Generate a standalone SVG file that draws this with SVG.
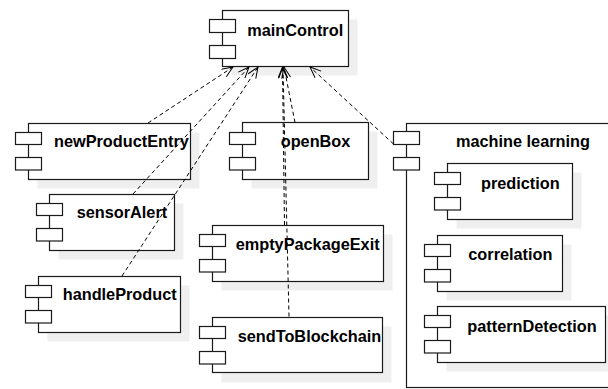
<svg xmlns="http://www.w3.org/2000/svg" width="608" height="389" viewBox="0 0 608 389">
<defs>
<style>
.sh{fill:#efefef;stroke:none}
.bx{fill:#fff;stroke:#1a1a1a;stroke-width:1.2}
.pt{fill:#fff;stroke:#1a1a1a;stroke-width:1.2}
.lb{font-family:"Liberation Sans",Arial,sans-serif;font-weight:bold;font-size:16.3px;fill:#000}
.dep{fill:none;stroke:#000;stroke-width:1;stroke-dasharray:4,3;marker-end:url(#open)}
</style>
<marker id="open" markerUnits="userSpaceOnUse" markerWidth="13" markerHeight="11" refX="12" refY="5" orient="auto">
<path d="M1,0.5 L12,5 L1,9.5" fill="none" stroke="#000" stroke-width="1" stroke-dasharray="none"/>
</marker>
</defs>
<rect width="608" height="389" fill="#fff"/>

<g id="mainControl">
<rect class="sh" x="231.5" y="19.5" width="126" height="56"/>
<rect class="bx" x="222.5" y="10.5" width="126" height="56"/>
<rect class="pt" x="209.5" y="19.5" width="26" height="13"/>
<rect class="pt" x="209.5" y="45.5" width="26" height="13"/>
<text class="lb" x="247.3" y="35.7">mainControl</text>
</g>

<g id="newProductEntry">
<rect class="sh" x="37.5" y="132.5" width="162" height="56"/>
<rect class="bx" x="28.5" y="123.5" width="162" height="56"/>
<rect class="pt" x="15.5" y="132.5" width="26" height="12"/>
<rect class="pt" x="15.5" y="157.5" width="26" height="12.5"/>
<text class="lb" x="54" y="147.3">newProductEntry</text>
</g>

<g id="sensorAlert">
<rect class="sh" x="58.5" y="203.5" width="125" height="56"/>
<rect class="bx" x="49.5" y="194.5" width="125" height="56"/>
<rect class="pt" x="36.5" y="203.5" width="26" height="12"/>
<rect class="pt" x="36.5" y="228.5" width="26" height="12.5"/>
<text class="lb" x="76.7" y="218.3">sensorAlert</text>
</g>

<g id="handleProduct">
<rect class="sh" x="47.5" y="285.5" width="142" height="56"/>
<rect class="bx" x="38.5" y="276.5" width="142" height="56"/>
<rect class="pt" x="25.5" y="285.5" width="26" height="12"/>
<rect class="pt" x="25.5" y="310.5" width="26" height="12.5"/>
<text class="lb" x="62.7" y="299.5">handleProduct</text>
</g>

<g id="openBox">
<rect class="sh" x="251.5" y="131.5" width="126" height="57"/>
<rect class="bx" x="242.5" y="122.5" width="126" height="57"/>
<rect class="pt" x="229.5" y="132.5" width="26" height="12"/>
<rect class="pt" x="229.5" y="157.5" width="26" height="12.5"/>
<text class="lb" x="280.7" y="147.3">openBox</text>
</g>

<g id="emptyPackageExit">
<rect class="sh" x="221.5" y="234.5" width="171" height="56"/>
<rect class="bx" x="212.5" y="225.5" width="171" height="56"/>
<rect class="pt" x="199.5" y="234.5" width="26" height="12"/>
<rect class="pt" x="199.5" y="259.5" width="26" height="12.5"/>
<text class="lb" x="235.7" y="250">emptyPackageExit</text>
</g>

<g id="sendToBlockchain">
<rect class="sh" x="221.5" y="326.5" width="170" height="56"/>
<rect class="bx" x="212.5" y="317.5" width="170" height="55"/>
<rect class="pt" x="199.5" y="326.5" width="26" height="12"/>
<rect class="pt" x="199.5" y="351.5" width="26" height="12.5"/>
<text class="lb" x="237.7" y="341.7">sendToBlockchain</text>
</g>

<g id="machineLearning">
<rect class="bx" x="406.5" y="123.5" width="210" height="264"/>
<rect class="pt" x="393.5" y="131.5" width="26" height="13"/>
<rect class="pt" x="393.5" y="157.5" width="26" height="12.5"/>
<text class="lb" x="456" y="147.3">machine learning</text>
</g>

<g id="prediction">
<rect class="sh" x="456.5" y="172.5" width="125" height="56"/>
<rect class="bx" x="447.5" y="163.5" width="125" height="56"/>
<rect class="pt" x="434.5" y="172.5" width="26" height="12"/>
<rect class="pt" x="434.5" y="197.5" width="26" height="12.5"/>
<text class="lb" x="481" y="189">prediction</text>
</g>

<g id="correlation">
<rect class="sh" x="446.5" y="244.5" width="125" height="56"/>
<rect class="bx" x="437.5" y="235.5" width="125" height="56"/>
<rect class="pt" x="424.5" y="244.5" width="26" height="12"/>
<rect class="pt" x="424.5" y="269.5" width="26" height="12.5"/>
<text class="lb" x="468.3" y="260">correlation</text>
</g>

<g id="patternDetection">
<rect class="sh" x="446.5" y="315.5" width="168" height="56"/>
<rect class="bx" x="437.5" y="306.5" width="168" height="56"/>
<rect class="pt" x="424.5" y="315.5" width="26" height="12"/>
<rect class="pt" x="424.5" y="340.5" width="26" height="12.5"/>
<text class="lb" x="467.3" y="331.7">patternDetection</text>
</g>

<g id="connectors">
<path class="dep" d="M148,123 L233,67"/>
<path class="dep" d="M133,194 L249,67"/>
<path class="dep" d="M122,276 L258,67"/>
<path class="dep" d="M295,122.5 L284,67"/>
<path class="dep" d="M284.5,225 L282.5,67"/>
<path class="dep" d="M289,316.5 L283,67"/>
<path class="dep" d="M393.5,144 L310,67"/>
</g>
</svg>
